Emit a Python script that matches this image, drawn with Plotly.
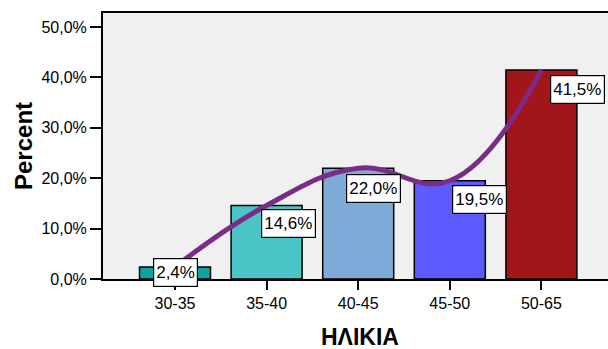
import plotly.graph_objects as go

categories = ["30-35", "35-40", "40-45", "45-50", "50-65"]
percent_values = [2.4, 14.6, 22.0, 19.5, 41.5]
bar_colors = ["#0DA3A3", "#4BC4C7", "#7DAAD6", "#5B5BFF", "#A1161B"]
y_tick_values = [0, 10, 20, 30, 40, 50]
y_tick_labels = ["0,0%", "10,0%", "20,0%", "30,0%", "40,0%", "50,0%"]
x_title = "ΗΛΙΚΙΑ"
y_title = "Percent"

# label offsets in pixels (style only)
label_xshift = [0, 22, 15, 30, 36]
label_yshift = [-6, -18, -20, -19, -20]

FONT = "Liberation Sans, Arial, sans-serif"

def fmt(v):
    return f"{v:.1f}".replace(".", ",") + "%"

fig = go.Figure()
fig.add_trace(go.Bar(
    x=categories, y=percent_values,
    marker=dict(color=bar_colors, line=dict(color="black", width=1.5)),
    width=0.775, showlegend=False, hoverinfo="skip",
))
fig.add_trace(go.Scatter(
    x=categories, y=percent_values, mode="lines",
    line=dict(color="#7B2C87", width=5, shape="spline", smoothing=1.2),
    showlegend=False, hoverinfo="skip",
))

annotations = []
for i, (c, v) in enumerate(zip(categories, percent_values)):
    annotations.append(dict(
        x=c, y=v, xref="x", yref="y", text=fmt(v), showarrow=False,
        xanchor="center", yanchor="middle",
        xshift=label_xshift[i], yshift=label_yshift[i],
        font=dict(family=FONT, size=17, color="black"),
        height=23, valign="middle",
        bgcolor="white", bordercolor="black", borderwidth=1.2, borderpad=2,
    ))
annotations.append(dict(
    x=(360 - 103) / 505, y=0, xref="paper", yref="paper", text=f"<b>{x_title}</b>",
    showarrow=False, xanchor="center", yanchor="middle", yshift=-58,
    font=dict(family=FONT, size=23, color="black"),
))
annotations.append(dict(
    x=0, y=0.5, xref="paper", yref="paper", text=f"<b>{y_title}</b>",
    showarrow=False, xanchor="center", yanchor="middle", xshift=-80, textangle=-90,
    font=dict(family=FONT, size=24, color="black"),
))

fig.update_layout(
    width=608, height=349,
    margin=dict(l=103, r=0, t=13, b=70),
    paper_bgcolor="white", plot_bgcolor="#F0F0F0",
    font=dict(family=FONT, size=16, color="black"),
    bargap=0.2,
    annotations=annotations,
)
fig.update_xaxes(
    range=[-0.786, 4.727], showline=True, linecolor="black", linewidth=2,
    mirror=True, ticks="outside", ticklen=9, tickwidth=2, tickcolor="black",
    showgrid=False, tickfont=dict(family=FONT, size=16, color="black"),
)
fig.update_yaxes(
    range=[0, 52.8], tickvals=y_tick_values, ticktext=y_tick_labels,
    showline=True, linecolor="black", linewidth=2, mirror=False,
    ticks="outside", ticklen=11, tickwidth=2, tickcolor="black",
    showgrid=False, zeroline=False, tickfont=dict(family=FONT, size=16, color="black"),
)

fig.write_html("out.html")
